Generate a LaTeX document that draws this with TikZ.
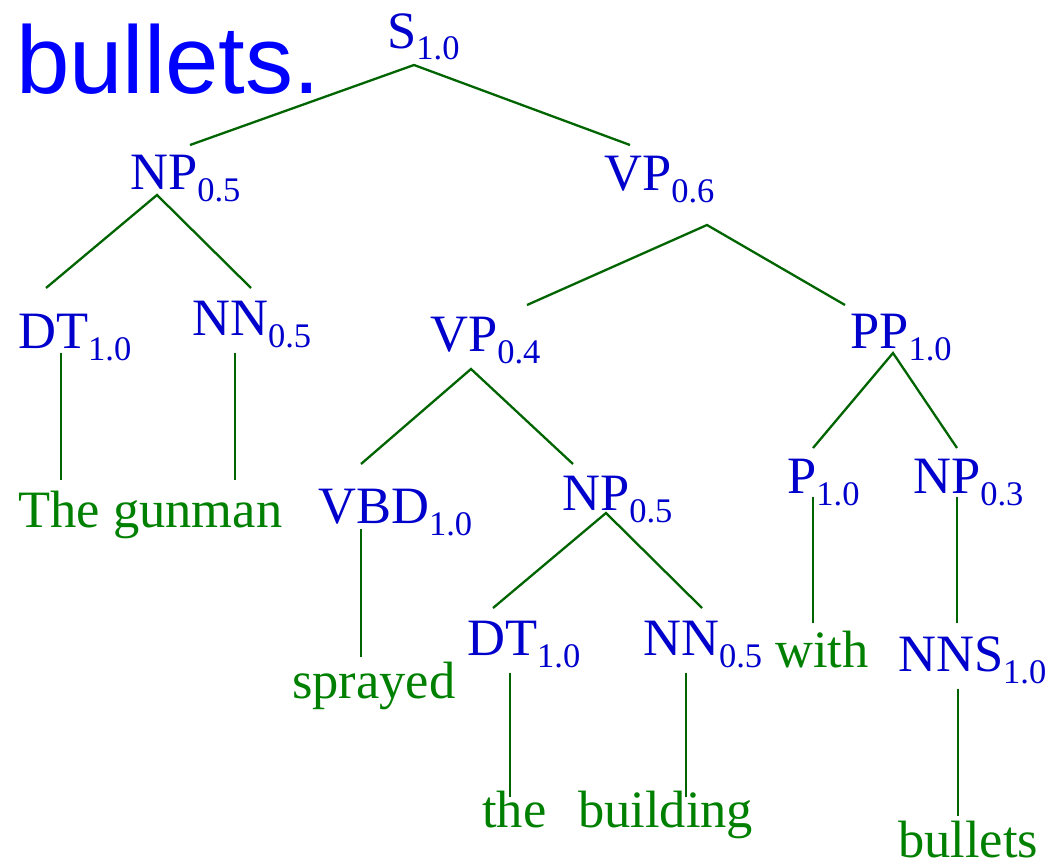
\documentclass[tikz,border=0pt]{standalone}
\usepackage{fontspec}
\setmainfont{Liberation Serif}
\newfontfamily\arialfont{Liberation Sans}
\definecolor{labblue}{RGB}{0,0,204}
\definecolor{wordgreen}{RGB}{0,128,0}
\definecolor{linegreen}{RGB}{0,100,0}
\definecolor{titleblue}{RGB}{0,0,255}
\newcommand{\subx}[1]{{\fontsize{34.5}{40}\selectfont\raisebox{-12pt}{#1}}}
\tikzset{
  lab/.style={anchor=base west, inner sep=0pt, text=labblue, font=\fontsize{52.5}{60}\selectfont},
  word/.style={anchor=base west, inner sep=0pt, text=wordgreen, font=\fontsize{52.5}{60}\selectfont},
  edge/.style={draw=linegreen, line width=2.3pt},
}
\begin{document}
\begin{tikzpicture}[x=1pt,y=-1pt]
\useasboundingbox (0,0) rectangle (1053,862);
\node[anchor=base west, inner sep=0pt, text=titleblue, font=\arialfont\fontsize{96}{100}\selectfont] (title) at (16,93) {bullets.};
% labels
\node[lab] (S) at (387,48) {S\subx{1.0}};
\node[lab] (NPa) at (130,189) {NP\subx{0.5}};
\node[lab] (VPa) at (604,190) {VP\subx{0.6}};
\node[lab] (DTa) at (18,348) {DT\subx{1.0}};
\node[lab] (NNa) at (192,335) {NN\subx{0.5}};
\node[lab] (VPb) at (430,351) {VP\subx{0.4}};
\node[lab] (PPa) at (850,348) {PP\subx{1.0}};
\node[lab] (VBD) at (318,523) {VBD\subx{1.0}};
\node[lab] (NPb) at (562,510) {NP\subx{0.5}};
\node[lab] (Pa) at (787,493) {P\subx{1.0}};
\node[lab] (NPc) at (913,493) {NP\subx{0.3}};
\node[lab] (DTb) at (467,655) {DT\subx{1.0}};
\node[lab] (NNb) at (643,655) {NN\subx{0.5}};
\node[lab] (NNS) at (898,671) {NNS\subx{1.0}};
% words
\node[word] (The) at (18,527) {The};
\node[word] (gunman) at (113,527) {gunman};
\node[word] (sprayed) at (292,698) {sprayed};
\node[word] (with) at (775,667) {with};
\node[word] (the) at (482,827) {the};
\node[word] (building) at (578,827) {building};
\node[word] (bullets) at (898,857) {bullets};
% connector ends
\coordinate (S-b) at (414,65);
\coordinate (NPa-t) at (190,145);
\coordinate (VPa-t) at (630,145);
\coordinate (NPa-b) at (157,195);
\coordinate (DTa-t) at (46,288);
\coordinate (NNa-t) at (251,288);
\coordinate (VPa-b) at (707,225);
\coordinate (VPb-t) at (527,305);
\coordinate (PPa-t) at (845,305);
\coordinate (DTa-b) at (61,353);
\coordinate (The-t) at (61,480);
\coordinate (NNa-b) at (235,353);
\coordinate (gunman-t) at (235,480);
\coordinate (VPb-b) at (471,369);
\coordinate (VBD-t) at (361,464);
\coordinate (NPb-t) at (573,464);
\coordinate (PPa-b) at (893,353);
\coordinate (Pa-t) at (813,448);
\coordinate (NPc-t) at (957,448);
\coordinate (VBD-b) at (361,529);
\coordinate (sprayed-t) at (361,657);
\coordinate (NPb-b) at (606,513);
\coordinate (DTb-t) at (493,608);
\coordinate (NNb-t) at (702,608);
\coordinate (Pa-b) at (813,497);
\coordinate (with-t) at (813,623);
\coordinate (NPc-b) at (957,497);
\coordinate (NNS-t) at (957,623);
\coordinate (NNS-b) at (958,689);
\coordinate (bullets-t) at (958,816);
\coordinate (DTb-b) at (510,673);
\coordinate (the-t) at (510,797);
\coordinate (NNb-b) at (686,673);
\coordinate (building-t) at (686,797);
% connectors
\draw[edge] (NPa-t) -- (S-b) -- (VPa-t);
\draw[edge] (DTa-t) -- (NPa-b) -- (NNa-t);
\draw[edge] (VPb-t) -- (VPa-b) -- (PPa-t);
\draw[edge] (DTa-b) -- (The-t);
\draw[edge] (NNa-b) -- (gunman-t);
\draw[edge] (VBD-t) -- (VPb-b) -- (NPb-t);
\draw[edge] (Pa-t) -- (PPa-b) -- (NPc-t);
\draw[edge] (VBD-b) -- (sprayed-t);
\draw[edge] (DTb-t) -- (NPb-b) -- (NNb-t);
\draw[edge] (Pa-b) -- (with-t);
\draw[edge] (NPc-b) -- (NNS-t);
\draw[edge] (NNS-b) -- (bullets-t);
\draw[edge] (DTb-b) -- (the-t);
\draw[edge] (NNb-b) -- (building-t);
\end{tikzpicture}
\end{document}
